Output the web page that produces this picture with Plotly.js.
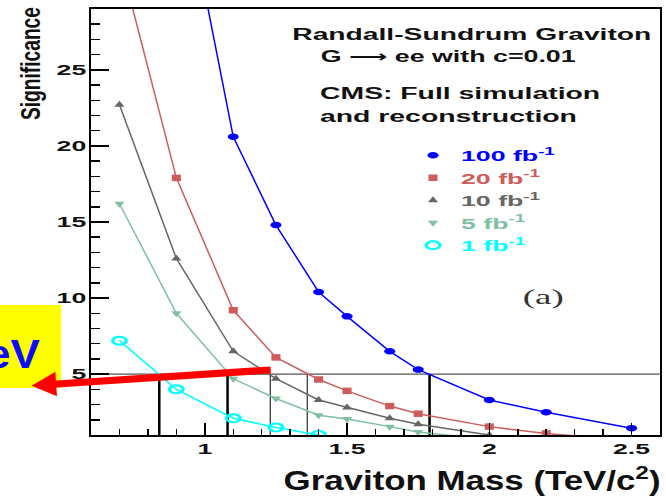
<!DOCTYPE html>
<html>
<head>
<meta charset="utf-8">
<script src="https://cdn.plot.ly/plotly-3.0.1.min.js"></script>
<style>
  html, body { margin: 0; padding: 0; background: #ffffff; }
  #chart { width: 666px; height: 498px; }
</style>
</head>
<body>
<div id="chart"></div>
<script>
// Expected signal significance vs. graviton mass (TeV/c^2), one curve per integrated luminosity
const mass100 = [1.0, 1.1, 1.25, 1.4, 1.5, 1.65, 1.75, 2.0, 2.2, 2.5];
const sig100  = [30.1, 20.6, 14.8, 10.4, 8.8, 6.5, 5.3, 3.3, 2.5, 1.45];
const mass20  = [0.7, 0.9, 1.1, 1.25, 1.4, 1.5, 1.65, 1.75, 2.0, 2.2, 2.5];
const sig20   = [32.4, 17.9, 9.2, 6.1, 4.65, 3.9, 2.9, 2.4, 1.55, 1.1, 0.62];
const mass10  = [0.7, 0.9, 1.1, 1.25, 1.4, 1.5, 1.65, 1.75, 2.0];
const sig10   = [22.7, 12.6, 6.5, 4.7, 3.3, 2.8, 2.1, 1.7, 1.0];
const mass5   = [0.7, 0.9, 1.1, 1.25, 1.4, 1.5, 1.65, 1.75, 2.0];
const sig5    = [16.2, 9.0, 4.7, 3.4, 2.3, 2.05, 1.55, 1.2, 0.7];
const mass1   = [0.7, 0.9, 1.1, 1.25, 1.4];
const sig1    = [7.2, 4.0, 2.1, 1.5, 1.0];
const lumiLabels = ['100 fb<sup>-1</sup>', '20 fb<sup>-1</sup>', '10 fb<sup>-1</sup>', '5 fb<sup>-1</sup>', '1 fb<sup>-1</sup>'];

// 5 sigma discovery level and the mass reach of each curve at that level
const discoveryLevel = 5;
const reachMass = [0.84, 1.08, 1.23, 1.36, 1.79];

// Texts
const infoLines = ['Randall-Sundrum Graviton', 'G \u27F6 ee with c=0.01', 'CMS: Full simulation', 'and reconstruction'];
const xTitle = 'Graviton Mass (TeV/c<sup>2</sup>)';
const yTitle = 'Significance';
const panelTag = '(a)';
const calloutText = 'TeV';

// Axis ranges
const xRange = [0.6, 2.6];
const yRange = [1, 29];

// ---- styling ----
const SANS = 'Liberation Sans, Arial, Helvetica, sans-serif';
const SERIF = 'Liberation Serif, Times New Roman, serif';
const seriesMass = [mass100, mass20, mass10, mass5, mass1];
const seriesSig = [sig100, sig20, sig10, sig5, sig1];
const colors = ['#0000ff', '#cd5c5c', '#666666', '#80c0a0', '#00ffff'];
const symbols = ['circle', 'square', 'triangle-up', 'triangle-down', 'circle-open'];
const sizes = [6.5, 6.5, 8, 8, 8];
const markerStretch = [1.7, 1.4, 1.1, 1.1, 1.7];
const reachWidth = [2.5, 2.5, 1, 1, 2.5];

const W = 666, H = 498;
const M = { l: 91, r: 6, t: 9, b: 63 };
const PW = W - M.l - M.r, PH = H - M.t - M.b;
const px = v => (v - M.l) / PW;          // page pixel -> paper x
const py = v => (H - M.b - v) / PH;      // page pixel -> paper y

const traces = [];
seriesMass.forEach((m, i) => {
  traces.push({
    type: 'scatter', mode: 'lines', x: m, y: seriesSig[i],
    line: { color: colors[i], width: 1.5 }, showlegend: false, hoverinfo: 'skip'
  });
});
seriesMass.forEach((m, i) => {
  traces.push({
    type: 'scatter', mode: 'markers', x: m, y: seriesSig[i],
    name: '<span style="color:' + colors[i] + '">' + lumiLabels[i] + '</span>',
    marker: {
      symbol: symbols[i], size: sizes[i], color: colors[i],
      line: { width: symbols[i] === 'circle-open' ? 2 : 0, color: colors[i] }
    }
  });
});

// annotations; annWidth holds the drawn width (px) of each stretched text,
// annThick a thickening factor across the baseline (used for the rotated title)
const annotations = [];
const annWidth = [];
const annThick = [];
function addText(a, width, thick) { annotations.push(a); annWidth.push(width || 0); annThick.push(thick || 1); }

const infoPos = [[472, 34.2, 359], [447.5, 56.2, 255], [460, 93.7, 280], [448.3, 116.7, 257]];
infoLines.forEach((t, i) => {
  addText({
    text: t, xref: 'paper', yref: 'paper', x: px(infoPos[i][0]), y: py(infoPos[i][1]),
    xanchor: 'center', yanchor: 'middle', showarrow: false,
    font: { family: SANS + ', DejaVu Sans', size: 16, weight: 'bold', color: '#111111' }
  }, infoPos[i][2]);
});
addText({
  text: panelTag, xref: 'paper', yref: 'paper', x: px(543), y: py(296.5),
  xanchor: 'center', yanchor: 'middle', showarrow: false,
  font: { family: SERIF, size: 22, color: '#333333' }
}, 41);
addText({
  text: xTitle, xref: 'paper', yref: 'paper', x: px(471.5), y: py(479),
  xanchor: 'center', yanchor: 'middle', showarrow: false,
  font: { family: SANS, size: 27, weight: 'bold', color: '#111111' }
}, 377);
addText({
  text: yTitle, xref: 'paper', yref: 'paper', x: px(30), y: py(63.5),
  xanchor: 'center', yanchor: 'middle', showarrow: false, textangle: -90,
  font: { family: SANS, size: 19, weight: 'bold', color: '#111111' }
}, 113, 1.5);
addText({
  text: calloutText, xref: 'paper', yref: 'paper', x: px(39), y: py(354),
  xanchor: 'right', yanchor: 'middle', showarrow: false,
  font: { family: SANS, size: 40, weight: 'bold', color: '#0a0aff' }
}, 0);
addText({
  text: ' ', xref: 'paper', yref: 'paper', x: px(31.7), y: py(385.7),
  showarrow: true, ax: 242, ay: -16, arrowcolor: '#ff0000', arrowwidth: 7,
  arrowhead: 2, arrowsize: 0.7, standoff: 0, startstandoff: 0
}, 0);
const calloutIndex = annotations.length - 2;

const shapes = [];
// yellow label box
shapes.push({
  type: 'rect', xref: 'paper', yref: 'paper', x0: px(0), x1: px(61), y0: py(388), y1: py(305),
  fillcolor: '#ffff00', line: { width: 0 }, layer: 'above'
});
// discovery level
shapes.push({
  type: 'line', xref: 'paper', yref: 'y', x0: 0, x1: 1, y0: discoveryLevel, y1: discoveryLevel,
  line: { color: '#555555', width: 1.2 }, layer: 'below'
});
// mass reach markers
reachMass.forEach((m, i) => {
  shapes.push({
    type: 'line', xref: 'x', yref: 'y', x0: m, x1: m, y0: yRange[0], y1: discoveryLevel,
    line: { color: '#000000', width: reachWidth[i] }, layer: 'below'
  });
});

const tickFont = { family: SANS, size: 14, weight: 'bold', color: '#111111' };
const layout = {
  width: W, height: H,
  margin: { l: M.l, r: M.r, t: M.t, b: M.b, pad: 0, autoexpand: false },
  paper_bgcolor: '#ffffff', plot_bgcolor: '#ffffff',
  showlegend: true,
  legend: {
    x: px(405), y: py(139), xanchor: 'left', yanchor: 'top',
    bgcolor: 'rgba(0,0,0,0)', borderwidth: 0, itemwidth: 46,
    traceorder: 'normal', tracegroupgap: 0,
    font: { family: SANS, size: 15, weight: 'bold' }
  },
  xaxis: {
    range: xRange, showgrid: false, zeroline: false,
    showline: true, linecolor: '#000000', linewidth: 2, mirror: true,
    ticks: 'inside', ticklen: 12, tickwidth: 1.5, tickcolor: '#000000',
    tick0: 0, dtick: 0.5, tickfont: tickFont,
    minor: { dtick: 0.1, ticks: 'inside', ticklen: 6, tickwidth: 1.5, tickcolor: '#000000', showgrid: false }
  },
  yaxis: {
    range: yRange, showgrid: false, zeroline: false,
    showline: true, linecolor: '#000000', linewidth: 2, mirror: true,
    ticks: 'inside', ticklen: 18, tickwidth: 1.5, tickcolor: '#000000',
    tick0: 0, dtick: 5, tickfont: tickFont,
    minor: { dtick: 1, ticks: 'inside', ticklen: 9, tickwidth: 1.5, tickcolor: '#000000', showgrid: false }
  },
  annotations: annotations,
  shapes: shapes
};

// The lettering and markers of this figure are drawn wide; stretch them horizontally.
function setLength(t, len) {
  if (!t || !len) return;
  t.setAttribute('textLength', len.toFixed(1));
  t.setAttribute('lengthAdjust', 'spacingAndGlyphs');
}
function widen(t, k) {
  const len = t.getComputedTextLength();
  if (len > 0) setLength(t, len * k);
}
function thicken(t, k) {
  const b = t.getBBox();
  const cy = b.y + b.height / 2;
  const tr = t.getAttribute('transform') || '';
  t.setAttribute('transform', tr + ' translate(0,' + cy + ') scale(1,' + k + ') translate(0,' + (-cy) + ')');
}
function stretchPoint(p, k) {
  const tr = p.getAttribute('transform') || '';
  p.setAttribute('transform', tr + ' scale(' + k + ',1)');
}
function finish(gd) {
  gd.querySelectorAll('.xtick text, .ytick text').forEach(t => widen(t, 1.9));
  gd.querySelectorAll('.legendtext').forEach(t => widen(t, 1.78));
  // the widened legend labels must not be cut by the legend's clip box
  gd.querySelectorAll('.legend [clip-path]').forEach(e => e.removeAttribute('clip-path'));
  gd.querySelectorAll('.annotation').forEach(g => {
    const i = +g.getAttribute('data-index');
    const t = g.querySelector('.annotation-text');
    if (!t) return;
    if (annWidth[i]) setLength(t, annWidth[i]);
    if (annThick[i] !== 1) thicken(t, annThick[i]);
    if (i === calloutIndex) widen(t, 1.1);
  });
  const groups = gd.querySelectorAll('.scatterlayer .trace');
  markerStretch.forEach((k, i) => {
    const g = groups[seriesMass.length + i];
    if (g) g.querySelectorAll('path.point').forEach(p => stretchPoint(p, k));
  });
  gd.querySelectorAll('.legend .traces').forEach((g, i) => {
    g.querySelectorAll('path.scatterpts').forEach(p => stretchPoint(p, markerStretch[i] || 1));
  });
}

const gd = document.getElementById('chart');
Plotly.newPlot(gd, traces, layout, { staticPlot: true, displayModeBar: false }).then(finish);
</script>
</body>
</html>
